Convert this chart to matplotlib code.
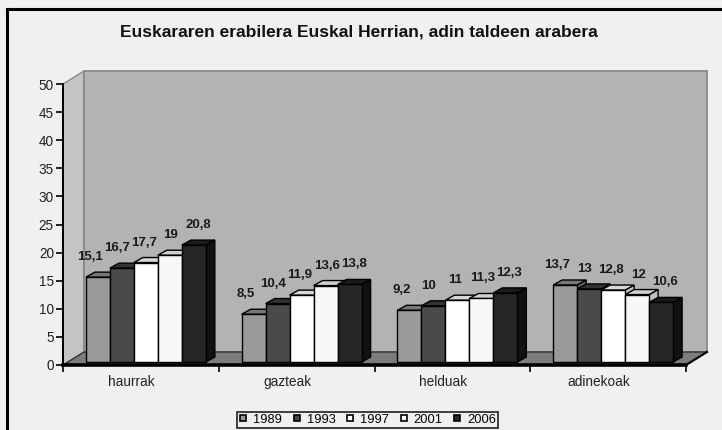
import matplotlib
matplotlib.use("Agg")
import matplotlib.pyplot as plt
from matplotlib.patches import Polygon
from matplotlib.lines import Line2D
import numpy as np

plt.rcParams['font.family'] = ['Liberation Sans', 'DejaVu Sans']

categories = ["haurrak", "gazteak", "helduak", "adinekoak"]
years = ["1989", "1993", "1997", "2001", "2006"]
v1989 = [15.1, 8.5, 9.2, 13.7]
v1993 = [16.7, 10.4, 10.0, 13.0]
v1997 = [17.7, 11.9, 11.0, 12.8]
v2001 = [19.0, 13.6, 11.3, 12.0]
v2006 = [20.8, 13.8, 12.3, 10.6]
series = [v1989, v1993, v1997, v2001, v2006]
yticks = [0, 5, 10, 15, 20, 25, 30, 35, 40, 45, 50]
title = "Euskararen erabilera Euskal Herrian, adin taldeen arabera"

front_colors = ['#9a9a9a', '#4a4a4a', '#ffffff', '#f7f7f7', '#262626']
top_colors = ['#777777', '#333333', '#d8d8d8', '#d0d0d0', '#1a1a1a']
side_colors = ['#6a6a6a', '#2a2a2a', '#c8c8c8', '#c0c0c0', '#111111']

W, H = 722, 430
fig = plt.figure(figsize=(W / 100, H / 100), dpi=100, facecolor='#f0f0f0')
ax_l, ax_r, ax_b, ax_t = 63, 686, 365, 84
ax = fig.add_axes([ax_l / W, 1 - ax_b / H, (ax_r - ax_l) / W, (ax_b - ax_t) / H])
ax.set_facecolor('none')
ncat = len(categories)
ymax = 50
ax.set_xlim(0, ncat)
ax.set_ylim(0, ymax)

sx = (ax_r - ax_l) / ncat  # px per category
sy = (ax_b - ax_t) / ymax  # px per unit
def px(dxp, dyp):
    return dxp / sx, dyp / sy

wdx, wdy = px(21, 13)   # wall depth
fdx, fdy = px(5, 3)     # bar front offset
bdx, bdy = px(9, 5)     # bar depth

# side wall, back wall, floor
ax.add_patch(Polygon([(0, 0), (wdx, wdy), (wdx, ymax + wdy), (0, ymax)], closed=True,
                     facecolor='#c4c4c4', edgecolor='#8a8a8a', lw=1, clip_on=False, zorder=0.5))
ax.add_patch(Polygon([(wdx, wdy), (ncat + wdx, wdy), (ncat + wdx, ymax + wdy), (wdx, ymax + wdy)],
                     closed=True, facecolor='#b3b3b3', edgecolor='#858585', lw=1.2,
                     clip_on=False, zorder=0.5))
ax.add_patch(Polygon([(0, 0), (ncat, 0), (ncat + wdx, wdy), (wdx, wdy)], closed=True,
                     facecolor='#7c7c7c', edgecolor='#222222', lw=0.8, clip_on=False, zorder=0.6))

nser = len(series)
bw = 0.77 / nser
x0 = np.arange(ncat) + 0.5
for j, vals in enumerate(series):
    xc = x0 + (j - (nser - 1) / 2) * bw + fdx
    bars = ax.bar(xc, vals, width=bw, bottom=fdy, color=front_colors[j], edgecolor='black',
                  linewidth=1.0, zorder=3 + 3 * j + 2, clip_on=False)
    for i, (b, v) in enumerate(zip(bars, vals)):
        xl = b.get_x(); xr = xl + b.get_width()
        yb = b.get_y(); yt = yb + b.get_height()
        z = 3 + 3 * j
        ax.add_patch(Polygon([(xr, yb), (xr + bdx, yb + bdy), (xr + bdx, yt + bdy), (xr, yt)],
                             closed=True, facecolor=side_colors[j], edgecolor='black', lw=1.0,
                             zorder=z, clip_on=False))
        ax.add_patch(Polygon([(xl, yt), (xr, yt), (xr + bdx, yt + bdy), (xl + bdx, yt + bdy)],
                             closed=True, facecolor=top_colors[j], edgecolor='black', lw=1.0,
                             zorder=z + 1, clip_on=False))
        lab = ("%g" % v).replace('.', ',')
        xo = (j - (nser - 1) / 2) * 27 + 3 - (j - (nser - 1) / 2) * bw * sx
        ax.annotate(lab, xy=(xl + bw / 2 - fdx, v), xytext=(xo * 0.72, 23 * 0.72),
                    textcoords='offset points', ha='center', va='center',
                    fontsize=9.5, fontweight='bold', color='#1a1a1a', zorder=40,
                    annotation_clip=False)

# axes styling
for s in ['top', 'right']:
    ax.spines[s].set_visible(False)
ax.spines['left'].set_linewidth(1.4)
ax.spines['bottom'].set_linewidth(2.6)
ax.spines['bottom'].set_zorder(30)
ax.set_yticks(yticks)
ax.set_yticklabels([str(t) for t in yticks], fontsize=9.8, color='#222222')
ax.tick_params(axis='y', direction='out', length=5, width=1.2, pad=1.5)
ax.set_xticks(np.arange(ncat + 1))
ax.set_xticklabels([])
ax.tick_params(axis='x', which='major', direction='out', length=5, width=1.2)
ax.set_xticks(x0 - 0.06, minor=True)
ax.set_xticklabels(categories, minor=True, fontsize=9.8, color='#222222')
ax.tick_params(axis='x', which='minor', length=0, pad=7)
# floor right slanted edge
ax.add_line(Line2D([ncat, ncat + wdx], [0, wdy], color='black', lw=1.5, clip_on=False, zorder=31))

fig.text(359 / W, 1 - 32 / H, title, ha='center', va='center', fontsize=12.5,
         fontweight='bold', color='#111111')

# outer frame
fig.add_artist(Line2D([7 / W, 7 / W], [0, 1 - 9 / H], color='black', lw=2.2))
fig.add_artist(Line2D([7 / W, 1], [1 - 9 / H, 1 - 9 / H], color='black', lw=2.2))

handles = [Line2D([], [], marker='s', linestyle='none', markersize=4.5,
                  markerfacecolor=c, markeredgecolor='black', markeredgewidth=1.2)
           for c in front_colors]
leg = fig.legend(handles, years, loc='upper left', bbox_to_anchor=(237 / W, 1 - 412 / H),
                 ncol=5, frameon=True, fancybox=False, fontsize=9.3, handlelength=0.7,
                 handletextpad=0.4, columnspacing=0.8, borderpad=0.15, borderaxespad=0)
leg.get_frame().set_edgecolor('black')
leg.get_frame().set_linewidth(1.3)
leg.get_frame().set_facecolor('#f0f0f0')

fig.savefig("out.png", dpi=100, facecolor=fig.get_facecolor())
